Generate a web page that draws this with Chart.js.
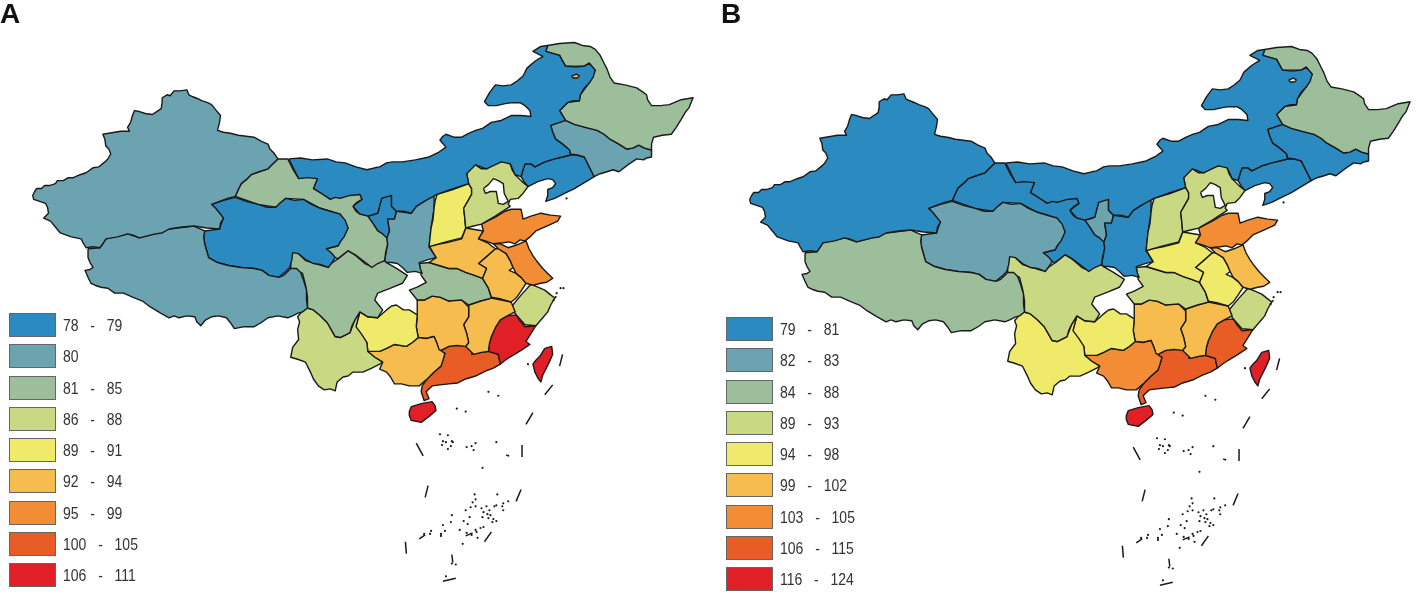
<!DOCTYPE html>
<html>
<head>
<meta charset="utf-8">
<script src="https://cdn.jsdelivr.net/npm/chart.js@4/dist/chart.umd.min.js"></script>
<style>
  html, body { margin: 0; background: #fff; width: 1420px; height: 606px; overflow: hidden; }
  .panel { position: absolute; width: 703px; height: 606px; }
  #panelA { left: 0; top: 0; }
  #panelB { left: 717px; top: 4px; }
  .tag { position: absolute; font: bold 28px "Liberation Sans", Arial, sans-serif; color: #111; }
  .row { position: absolute; left: 9px; height: 23px; width: 200px; }
  .row i { position: absolute; left: 0; top: 0; width: 45px; height: 22px; border: 1px solid #666; }
  .row span { position: absolute; left: 54px; top: 4px; font: 14px "Liberation Sans", sans-serif; word-spacing: 2px; color: #333; white-space: pre; transform: scaleY(1.2); }
  .panel canvas { position: absolute; left: 0; top: 0; }
</style>
</head>
<body>
<div class="panel" id="panelA"><canvas id="mapA"></canvas></div>
<div class="panel" id="panelB"><canvas id="mapB"></canvas></div>
<script>
const classColors = ["#2b8abf", "#6ba3b0", "#9dbe9b", "#c9d883", "#f0ea6a", "#f7bc4e", "#f28c35", "#e85d26", "#e01f26"];
const labelsA = ["78  -  79", "80", "81  -  85", "86  -  88", "89  -  91", "92  -  94", "95  -  99", "100  -  105", "106  -  111"];
const labelsB = ["79  -  81", "82  -  83", "84  -  88", "89  -  93", "94  -  98", "99  -  102", "103  -  105", "106  -  115", "116  -  124"];

// region outlines
const xinjiang = [[29,194],[31,190],[33,187],[38,187],[41,184],[46,184],[52,182],[54,179],[60,179],[65,176],[70,176],[77,173],[83,171],[90,166],[96,165],[102,160],[105,157],[108,152],[106,147],[103,144],[102,137],[100,132],[106,131],[112,130],[118,129],[127,129],[125,125],[128,120],[130,113],[132,108],[137,109],[143,111],[150,112],[153,110],[159,106],[160,100],[160,95],[165,92],[168,93],[172,88],[178,88],[185,87],[187,92],[191,94],[196,96],[200,98],[206,100],[210,102],[214,107],[219,113],[218,120],[216,128],[222,130],[229,131],[237,133],[245,134],[253,135],[260,139],[267,142],[269,147],[273,151],[277,157],[272,162],[267,167],[258,170],[250,173],[245,178],[240,182],[237,188],[234,195],[226,197],[218,200],[210,203],[215,208],[222,217],[219,222],[218,228],[205,227],[192,225],[180,226],[167,228],[160,232],[153,233],[145,235],[137,237],[130,234],[125,233],[115,236],[103,238],[100,243],[97,247],[90,246],[83,247],[80,242],[78,238],[68,236],[57,232],[52,226],[47,220],[40,217],[45,212],[44,206],[42,202],[36,200],[30,198]];
const tibet = [[85,248],[97,247],[103,238],[125,233],[137,237],[153,233],[167,228],[192,225],[203,230],[202,236],[203,243],[205,250],[207,257],[216,262],[227,265],[240,267],[253,268],[261,270],[268,275],[278,277],[283,275],[290,268],[296,268],[300,272],[303,280],[306,290],[306,300],[307,308],[302,312],[298,313],[292,316],[287,318],[277,316],[267,318],[260,323],[253,327],[243,327],[233,329],[229,323],[225,318],[217,316],[210,317],[204,320],[199,326],[195,322],[193,317],[185,316],[177,318],[172,316],[167,318],[158,313],[148,307],[140,301],[130,297],[121,293],[112,293],[105,288],[98,287],[92,285],[88,283],[85,277],[82,270],[87,269],[90,267],[87,262],[85,257]];
const qinghai = [[210,203],[222,199],[234,196],[245,200],[257,203],[266,206],[275,206],[280,201],[285,197],[294,199],[303,198],[311,203],[320,207],[330,210],[340,213],[345,219],[348,227],[344,236],[340,241],[338,245],[326,248],[331,252],[335,257],[331,263],[328,267],[320,264],[313,263],[305,259],[298,253],[292,252],[291,260],[289,267],[284,272],[278,277],[268,275],[261,270],[253,268],[240,267],[227,265],[216,262],[207,257],[205,250],[203,243],[202,236],[203,230],[218,228],[220,222],[222,217],[216,210]];
const gansu = [[234,195],[237,188],[240,182],[245,178],[250,173],[258,170],[267,167],[272,162],[277,157],[287,157],[292,167],[298,177],[307,176],[317,177],[315,182],[313,187],[321,192],[330,198],[335,196],[340,197],[350,194],[360,193],[362,198],[357,201],[353,205],[356,210],[360,213],[368,215],[373,222],[378,230],[383,233],[387,237],[388,243],[386,252],[385,260],[378,263],[372,267],[367,263],[363,260],[355,254],[348,250],[343,254],[338,258],[335,257],[326,248],[338,245],[348,227],[340,213],[320,207],[303,198],[285,197],[275,206],[257,203]];
const innerMongolia = [[288,157],[300,156],[312,158],[327,157],[336,160],[345,161],[356,165],[367,168],[375,166],[380,165],[387,161],[393,160],[403,160],[416,158],[430,155],[440,150],[447,145],[441,138],[444,134],[447,132],[455,135],[463,135],[470,131],[477,128],[484,126],[493,120],[503,118],[513,113],[523,113],[533,114],[532,108],[527,103],[522,100],[514,100],[507,101],[498,103],[490,103],[486,99],[491,90],[497,82],[505,83],[513,82],[519,78],[525,73],[529,65],[537,58],[545,53],[535,48],[543,43],[550,42],[548,48],[555,50],[562,52],[565,58],[568,63],[578,64],[587,63],[592,60],[598,67],[596,74],[592,80],[587,85],[583,92],[582,98],[576,98],[570,100],[562,108],[568,118],[553,123],[555,130],[558,137],[565,142],[572,148],[573,153],[565,155],[557,157],[547,160],[537,165],[533,162],[527,162],[525,168],[523,175],[517,173],[512,162],[503,160],[488,167],[477,163],[468,172],[470,182],[452,188],[438,193],[425,200],[417,205],[412,212],[404,210],[397,210],[392,205],[392,194],[382,197],[378,212],[368,215],[360,213],[353,205],[362,198],[360,193],[340,197],[330,198],[313,187],[317,177],[298,177]];
const heilongjiang = [[550,42],[562,40],[577,39],[585,42],[593,43],[598,46],[603,52],[607,60],[610,66],[613,74],[617,80],[628,82],[640,85],[646,89],[650,92],[651,97],[655,103],[664,103],[673,102],[685,97],[697,95],[693,105],[689,110],[685,117],[680,125],[675,132],[666,133],[657,135],[655,142],[655,148],[648,146],[642,143],[636,146],[630,147],[622,142],[613,137],[607,132],[600,128],[588,125],[577,122],[568,118],[562,108],[570,100],[582,98],[583,92],[592,80],[598,67],[592,60],[587,63],[568,63],[562,52],[548,48]];
const jilin = [[553,123],[568,118],[577,122],[588,125],[600,128],[607,132],[613,137],[622,142],[630,147],[636,146],[642,143],[648,146],[655,148],[655,155],[650,156],[647,158],[640,157],[631,163],[622,170],[616,168],[610,170],[603,172],[597,175],[592,165],[587,155],[580,153],[573,152],[572,148],[565,142],[558,137],[555,130]];
const liaoning = [[573,153],[580,153],[587,155],[592,165],[597,175],[587,181],[577,187],[567,192],[557,197],[548,200],[550,194],[550,188],[555,186],[558,182],[555,178],[550,177],[540,180],[530,185],[526,180],[523,175],[525,168],[527,162],[533,162],[537,165],[547,160],[557,157]];
const hebei = [[468,172],[471,164],[477,163],[483,167],[488,167],[496,162],[503,160],[508,160],[512,162],[514,168],[517,173],[524,180],[530,185],[525,192],[520,197],[512,198],[510,203],[512,205],[497,215],[483,223],[475,225],[467,227],[466,216],[465,207],[469,200],[473,193],[473,187],[470,182]];
const beijingTianjin = [[485,187],[490,183],[495,177],[500,179],[505,182],[506,192],[510,200],[505,203],[500,202],[499,196],[498,190],[492,190],[487,192]];
const shanxi = [[438,193],[454,188],[470,182],[473,187],[473,193],[469,200],[465,207],[466,216],[467,227],[463,237],[447,241],[430,246],[431,236],[432,227],[434,218],[435,207],[436,200]];
const shaanxi = [[397,210],[412,212],[417,205],[425,200],[435,193],[435,207],[432,227],[430,246],[437,257],[429,259],[420,262],[421,268],[423,273],[416,271],[408,272],[403,267],[398,263],[392,262],[387,262],[385,260],[388,243],[387,238],[390,230],[388,218],[395,218]];
const ningxia = [[368,215],[373,214],[378,212],[380,204],[382,197],[387,194],[392,194],[392,205],[397,210],[395,218],[388,218],[390,230],[387,238],[383,234],[378,230],[373,222]];
const innerBlob = [[388,219],[393,219],[398,220],[405,223],[411,227],[412,232],[411,237],[405,241],[400,243],[394,241],[388,240],[391,232]];
const shandong = [[483,223],[497,216],[507,210],[513,208],[523,208],[524,213],[525,218],[533,215],[543,212],[553,214],[563,215],[560,220],[549,225],[538,230],[532,236],[527,240],[522,239],[517,243],[511,241],[505,242],[495,243],[487,240],[480,238],[485,230]];
const henan = [[430,245],[447,242],[463,238],[467,227],[485,230],[480,238],[489,242],[497,248],[488,256],[480,263],[488,268],[484,278],[476,275],[467,272],[458,268],[450,268],[440,265],[430,262],[437,257]];
const jiangsu = [[495,243],[502,243],[510,247],[519,244],[528,240],[531,248],[535,255],[540,262],[545,268],[550,273],[555,278],[549,282],[543,283],[535,285],[528,283],[523,277],[518,273],[515,267],[512,260],[508,253],[500,248]];
const anhui = [[480,263],[497,248],[500,248],[508,253],[512,260],[515,267],[511,270],[518,273],[523,277],[528,283],[523,291],[518,298],[513,302],[503,299],[493,297],[490,288],[484,278],[488,268]];
const hubei = [[420,263],[430,262],[440,265],[450,268],[458,268],[467,272],[476,275],[484,278],[487,283],[490,288],[493,298],[482,301],[470,305],[463,300],[450,301],[441,297],[433,296],[425,300],[418,300],[410,290],[418,287],[427,282],[422,275]];
const sichuan = [[290,252],[295,250],[300,255],[305,260],[315,263],[325,266],[331,263],[338,258],[343,254],[348,250],[356,255],[365,263],[372,266],[378,262],[382,258],[387,262],[397,268],[408,275],[403,283],[391,288],[378,293],[375,300],[379,305],[383,310],[378,318],[368,317],[360,312],[355,320],[352,326],[350,333],[340,338],[335,337],[331,330],[327,323],[320,316],[313,310],[307,308],[307,297],[305,285],[302,273],[296,270],[290,268]];
const yunnan = [[305,308],[313,310],[320,316],[327,323],[331,330],[335,337],[340,338],[350,333],[355,320],[360,312],[356,327],[362,335],[367,343],[368,352],[375,358],[383,363],[380,365],[372,369],[363,373],[353,373],[348,377],[343,378],[337,383],[335,392],[330,390],[324,391],[318,387],[313,380],[310,373],[305,363],[297,360],[290,358],[292,348],[298,340],[297,330],[299,322],[297,317],[303,310]];
const guizhou = [[356,327],[360,312],[368,317],[378,318],[387,310],[392,306],[397,305],[404,310],[410,310],[418,315],[417,327],[419,338],[413,343],[407,347],[395,345],[387,349],[380,352],[368,352],[367,343],[358,333]];
const guangxi = [[368,352],[380,352],[387,349],[395,345],[407,347],[413,343],[419,338],[427,339],[435,337],[438,344],[440,350],[446,354],[444,361],[442,367],[435,373],[428,380],[420,387],[410,387],[402,385],[395,385],[391,378],[387,373],[380,370],[383,363],[370,355]];
const hunan = [[418,300],[425,300],[433,296],[441,297],[450,301],[457,299],[463,300],[470,307],[470,317],[465,325],[468,334],[470,343],[467,347],[458,346],[450,347],[440,352],[438,344],[435,337],[427,339],[419,338],[417,327],[418,315]];
const jiangxi = [[470,305],[482,301],[493,298],[503,300],[513,302],[517,312],[509,316],[502,320],[497,328],[493,337],[491,344],[490,352],[483,353],[475,355],[467,347],[470,343],[468,334],[465,325],[470,317]];
const fujian = [[502,320],[509,316],[518,315],[522,321],[527,327],[538,326],[533,334],[528,342],[532,345],[523,351],[513,357],[507,361],[502,365],[500,355],[490,352],[491,344],[493,337],[497,328]];
const zhejiang = [[513,307],[523,295],[533,284],[540,287],[547,290],[552,294],[557,298],[553,305],[550,312],[545,318],[538,326],[527,325],[518,315]];
const guangdong = [[440,352],[450,347],[460,345],[469,347],[477,347],[473,355],[483,353],[490,352],[500,355],[502,365],[495,369],[487,372],[477,377],[467,380],[459,384],[450,385],[441,386],[433,387],[427,393],[430,400],[425,402],[422,393],[423,387],[428,380],[435,373],[442,367],[446,354]];
const hainan = [[412,408],[422,405],[433,403],[436,407],[437,412],[430,418],[422,424],[412,422],[410,417],[410,413]];
const taiwan = [[547,349],[554,347],[555,355],[552,362],[549,368],[545,376],[543,383],[540,379],[537,373],[535,365],[538,361],[542,357]];
const lake = [[574,73],[579,71],[582,73],[580,75],[576,75]];

const regions = [xinjiang, tibet, qinghai, gansu, innerMongolia, heilongjiang, jilin, liaoning, hebei, shanxi, shaanxi, ningxia, innerBlob, shandong, henan, jiangsu, anhui, hubei, sichuan, yunnan, guizhou, guangxi, hunan, jiangxi, fujian, zhejiang, guangdong, hainan, taiwan];
// legend class of each region, same order as regions
const classA = [1, 1, 0, 2, 0, 2, 1, 0, 3, 4, 1, 0, 2, 6, 5, 6, 5, 2, 2, 3, 4, 5, 5, 5, 8, 3, 7, 8, 8];
const classB = [0, 2, 1, 0, 0, 2, 0, 0, 3, 3, 0, 1, 0, 6, 4, 5, 4, 3, 3, 4, 4, 6, 5, 5, 7, 3, 7, 8, 8];

const dashes = [[[565,355],[562,367]],[[555,386],[547,396]],[[535,414],[528,426]],[[417,445],[424,458]],[[524,447],[524,459]],[[508,457],[511,458]],[[429,488],[426,500]],[[523,492],[518,504]],[[493,535],[486,545]],[[406,545],[407,557]],[[444,585],[457,582]],[[453,558],[454,566]],[[420,542],[426,538]],[[467,539],[474,536]]];
const islands = [[530,365],[490,393],[500,397],[458,410],[467,413],[563,288],[566,288],[559,293],[558,297],[556,300],[569,197],[441,436],[449,437],[444,443],[453,443],[447,444],[443,447],[454,444],[452,448],[449,451],[468,449],[473,448],[477,445],[475,452],[498,444],[484,470],[476,497],[477,502],[474,505],[467,513],[472,510],[477,509],[499,497],[483,511],[488,509],[491,513],[485,515],[489,517],[492,518],[484,520],[490,521],[496,509],[498,508],[505,506],[510,504],[504,509],[505,513],[495,522],[498,524],[494,525],[453,518],[471,520],[452,525],[465,524],[469,527],[444,528],[461,533],[432,534],[431,537],[425,537],[442,537],[446,534],[442,539],[468,536],[477,533],[482,531],[485,530],[478,535],[473,538],[479,541],[464,547],[457,568],[453,567],[447,580]];

const toPoints = pts => pts.map(p => ({ x: p[0], y: p[1] }));

function polygon(pts, color) {
  return {
    data: toPoints(pts.concat([pts[0]])),
    showLine: true,
    fill: "shape",
    backgroundColor: color,
    borderColor: "#1a1a1a",
    borderWidth: 1.4,
    borderJoinStyle: "round",
    pointRadius: 0,
    tension: 0,
    clip: false
  };
}

function drawMap(canvasId, classes, panelId, labels, tag, tagLeft, tagTop) {
  const panel = document.getElementById(panelId);
  const canvas = document.getElementById(canvasId);
  canvas.width = 703;
  canvas.height = 606;

  // later datasets are painted first, so the list runs top layer to bottom
  const datasets = [];
  datasets.push({
    data: toPoints(islands),
    pointRadius: 1.1,
    pointBackgroundColor: "#1a1a1a",
    pointBorderWidth: 0,
    showLine: false
  });
  dashes.forEach(d => {
    datasets.push({ data: toPoints(d), showLine: true, borderColor: "#1a1a1a", borderWidth: 1.5, pointRadius: 0 });
  });
  datasets.push(polygon(lake, canvasId === "mapA" ? classColors[5] : "#e8efe0"));
  datasets.push(polygon(beijingTianjin, "#ffffff"));
  regions.forEach((r, i) => datasets.push(polygon(r, classColors[classes[i]])));

  new Chart(canvas, {
    type: "scatter",
    data: { datasets: datasets },
    options: {
      responsive: false,
      animation: false,
      layout: { padding: 0 },
      plugins: { legend: { display: false }, tooltip: { enabled: false } },
      scales: {
        x: { type: "linear", min: 0, max: 703, display: false },
        y: { type: "linear", min: 0, max: 606, reverse: true, display: false }
      }
    }
  });

  const t = document.createElement("div");
  t.className = "tag";
  t.textContent = tag;
  t.style.left = tagLeft + "px";
  t.style.top = tagTop + "px";
  panel.appendChild(t);

  labels.forEach((text, i) => {
    const row = document.createElement("div");
    row.className = "row";
    row.style.top = (313 + i * 31.25) + "px";
    row.innerHTML = `<i style="background:${classColors[i]}"></i><span>${text}</span>`;
    panel.appendChild(row);
  });
}

drawMap("mapA", classA, "panelA", labelsA, "A", 0, -2);
drawMap("mapB", classB, "panelB", labelsB, "B", 4, -6);
</script>
</body>
</html>
